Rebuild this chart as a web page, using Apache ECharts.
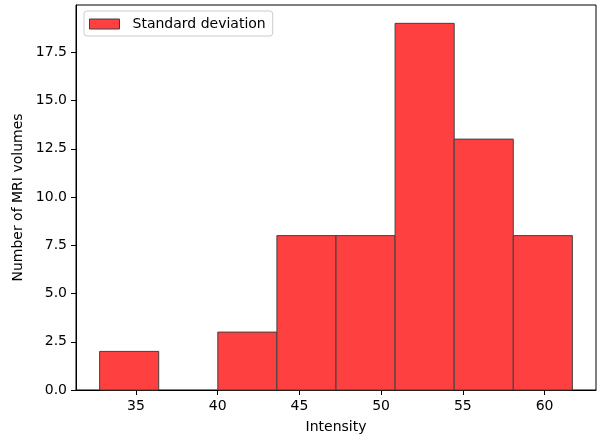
<!DOCTYPE html>
<html>
<head>
<meta charset="utf-8">
<script src="https://cdn.jsdelivr.net/npm/echarts@6/dist/echarts.min.js"></script>
<style>
  html, body { margin: 0; padding: 0; background: #fff; }
  #chart { width: 606px; height: 439px; }
</style>
</head>
<body>
<div id="chart"></div>
<script>
// histogram bins
var binEdges = [32.78, 36.395, 40.01, 43.625, 47.24, 50.855, 54.47, 58.085, 61.70];
var counts = [2, 0, 3, 8, 8, 19, 13, 8];
var xTicks = [35, 40, 45, 50, 55, 60];
var yTicks = [0, 2.5, 5, 7.5, 10, 12.5, 15, 17.5];
var seriesName = 'Standard deviation';

var font = 'DejaVu Sans';

// build [start, end, count] rows for the custom series
var bars = [];
for (var i = 0; i < counts.length; i++) {
  bars.push([binEdges[i], binEdges[i + 1], counts[i]]);
}

function renderBar(params, api) {
  if (api.value(2) <= 0) return null; // empty bin, nothing to see
  var topLeft = api.coord([api.value(0), api.value(2)]);
  var bottomRight = api.coord([api.value(1), 0]);
  return {
    type: 'rect',
    shape: {
      x: topLeft[0],
      y: topLeft[1],
      width: bottomRight[0] - topLeft[0],
      height: bottomRight[1] - topLeft[1]
    },
    style: {
      fill: '#ff4040',
      stroke: '#404040',
      lineWidth: 1
    }
  };
}

var chart = echarts.init(document.getElementById('chart'), null, { renderer: 'canvas' });

var span = binEdges[binEdges.length - 1] - binEdges[0];

var option = {
  animation: false,
  backgroundColor: '#ffffff',
  textStyle: { fontFamily: font },
  grid: {
    left: 76,
    right: 10,
    top: 5,
    bottom: 48,
    show: true,
    borderColor: '#000',
    borderWidth: 1,
    containLabel: false
  },
  legend: {
    left: 84,
    top: 11,
    padding: [6, 7, 5, 5],
    backgroundColor: 'rgba(255,255,255,0.8)',
    borderColor: '#cccccc',
    borderWidth: 1,
    borderRadius: 3,
    itemWidth: 30,
    itemHeight: 10,
    textStyle: {
      fontFamily: font,
      fontSize: 14,
      color: '#000',
      padding: [0, 0, 0, 8]
    },
    data: [{
      name: seriesName,
      icon: 'rect',
      itemStyle: { color: '#ff4040', borderColor: '#404040', borderWidth: 1 }
    }]
  },
  xAxis: {
    type: 'value',
    min: binEdges[0] - span * 0.05,
    max: binEdges[binEdges.length - 1] + span * 0.05,
    name: 'Intensity',
    nameLocation: 'middle',
    nameGap: 30,
    nameTextStyle: { fontFamily: font, fontSize: 14, color: '#000' },
    splitLine: { show: false },
    axisLine: { show: true, onZero: false, lineStyle: { color: '#000', width: 1 } },
    axisTick: { show: true, length: 5, lineStyle: { color: '#000' }, customValues: xTicks },
    axisLabel: {
      color: '#000',
      fontFamily: font,
      fontSize: 14,
      margin: 9,
      customValues: xTicks,
      formatter: function (v) { return String(v); }
    }
  },
  yAxis: {
    type: 'value',
    min: 0,
    max: 19 * 1.05,
    name: 'Number of MRI volumes',
    nameLocation: 'middle',
    nameGap: 47,
    nameTextStyle: { fontFamily: font, fontSize: 14, color: '#000' },
    splitLine: { show: false },
    axisLine: { show: true, lineStyle: { color: '#000', width: 1 } },
    axisTick: { show: true, length: 5, lineStyle: { color: '#000' }, customValues: yTicks },
    axisLabel: {
      color: '#000',
      fontFamily: font,
      fontSize: 14,
      margin: 9,
      customValues: yTicks,
      formatter: function (v) { return v.toFixed(1); }
    }
  },
  series: [{
    name: seriesName,
    type: 'custom',
    renderItem: renderBar,
    encode: { x: [0, 1], y: 2 },
    itemStyle: { color: '#ff4040', borderColor: '#404040', borderWidth: 1 },
    data: bars
  }]
};

chart.setOption(option);
</script>
</body>
</html>
